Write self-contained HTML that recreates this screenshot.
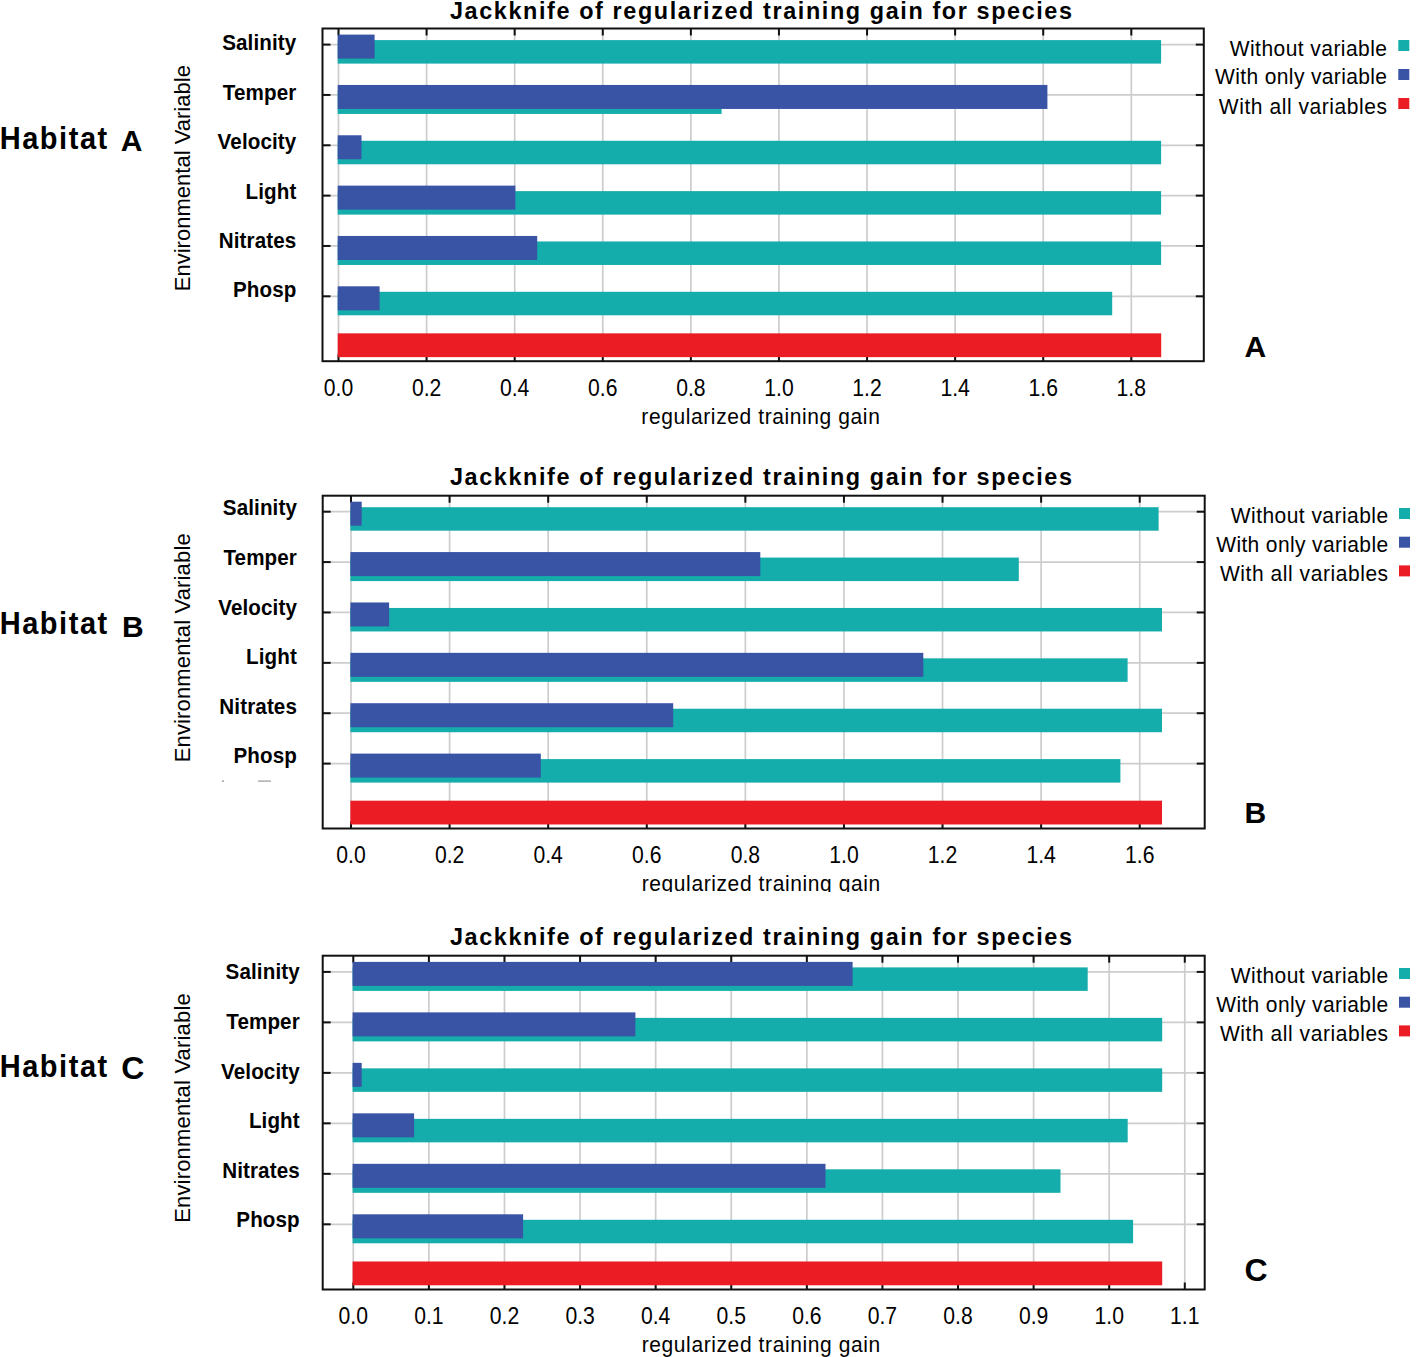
<!DOCTYPE html><html><head><meta charset="utf-8"><style>html,body{margin:0;padding:0;background:#fff;width:1417px;height:1357px;overflow:hidden}svg{display:block}text{font-family:"Liberation Sans",sans-serif}</style></head><body>
<svg width="1417" height="1357" viewBox="0 0 1417 1357">
<rect x="0" y="0" width="1417" height="1357" fill="#fff"/>
<line x1="338.50" y1="28.5" x2="338.50" y2="361.2" stroke="#cdcdcd" stroke-width="1.7"/><line x1="426.59" y1="28.5" x2="426.59" y2="361.2" stroke="#cdcdcd" stroke-width="1.7"/><line x1="514.68" y1="28.5" x2="514.68" y2="361.2" stroke="#cdcdcd" stroke-width="1.7"/><line x1="602.77" y1="28.5" x2="602.77" y2="361.2" stroke="#cdcdcd" stroke-width="1.7"/><line x1="690.86" y1="28.5" x2="690.86" y2="361.2" stroke="#cdcdcd" stroke-width="1.7"/><line x1="778.95" y1="28.5" x2="778.95" y2="361.2" stroke="#cdcdcd" stroke-width="1.7"/><line x1="867.04" y1="28.5" x2="867.04" y2="361.2" stroke="#cdcdcd" stroke-width="1.7"/><line x1="955.13" y1="28.5" x2="955.13" y2="361.2" stroke="#cdcdcd" stroke-width="1.7"/><line x1="1043.22" y1="28.5" x2="1043.22" y2="361.2" stroke="#cdcdcd" stroke-width="1.7"/><line x1="1131.31" y1="28.5" x2="1131.31" y2="361.2" stroke="#cdcdcd" stroke-width="1.7"/><line x1="322.5" y1="44.60" x2="1203.8" y2="44.60" stroke="#cdcdcd" stroke-width="1.7"/><line x1="322.5" y1="94.94" x2="1203.8" y2="94.94" stroke="#cdcdcd" stroke-width="1.7"/><line x1="322.5" y1="145.28" x2="1203.8" y2="145.28" stroke="#cdcdcd" stroke-width="1.7"/><line x1="322.5" y1="195.62" x2="1203.8" y2="195.62" stroke="#cdcdcd" stroke-width="1.7"/><line x1="322.5" y1="245.96" x2="1203.8" y2="245.96" stroke="#cdcdcd" stroke-width="1.7"/><line x1="322.5" y1="296.30" x2="1203.8" y2="296.30" stroke="#cdcdcd" stroke-width="1.7"/><line x1="338.50" y1="28.5" x2="338.50" y2="35.5" stroke="#111111" stroke-width="2"/><line x1="338.50" y1="361.2" x2="338.50" y2="354.2" stroke="#111111" stroke-width="2"/><line x1="426.59" y1="28.5" x2="426.59" y2="35.5" stroke="#111111" stroke-width="2"/><line x1="426.59" y1="361.2" x2="426.59" y2="354.2" stroke="#111111" stroke-width="2"/><line x1="514.68" y1="28.5" x2="514.68" y2="35.5" stroke="#111111" stroke-width="2"/><line x1="514.68" y1="361.2" x2="514.68" y2="354.2" stroke="#111111" stroke-width="2"/><line x1="602.77" y1="28.5" x2="602.77" y2="35.5" stroke="#111111" stroke-width="2"/><line x1="602.77" y1="361.2" x2="602.77" y2="354.2" stroke="#111111" stroke-width="2"/><line x1="690.86" y1="28.5" x2="690.86" y2="35.5" stroke="#111111" stroke-width="2"/><line x1="690.86" y1="361.2" x2="690.86" y2="354.2" stroke="#111111" stroke-width="2"/><line x1="778.95" y1="28.5" x2="778.95" y2="35.5" stroke="#111111" stroke-width="2"/><line x1="778.95" y1="361.2" x2="778.95" y2="354.2" stroke="#111111" stroke-width="2"/><line x1="867.04" y1="28.5" x2="867.04" y2="35.5" stroke="#111111" stroke-width="2"/><line x1="867.04" y1="361.2" x2="867.04" y2="354.2" stroke="#111111" stroke-width="2"/><line x1="955.13" y1="28.5" x2="955.13" y2="35.5" stroke="#111111" stroke-width="2"/><line x1="955.13" y1="361.2" x2="955.13" y2="354.2" stroke="#111111" stroke-width="2"/><line x1="1043.22" y1="28.5" x2="1043.22" y2="35.5" stroke="#111111" stroke-width="2"/><line x1="1043.22" y1="361.2" x2="1043.22" y2="354.2" stroke="#111111" stroke-width="2"/><line x1="1131.31" y1="28.5" x2="1131.31" y2="35.5" stroke="#111111" stroke-width="2"/><line x1="1131.31" y1="361.2" x2="1131.31" y2="354.2" stroke="#111111" stroke-width="2"/><line x1="322.5" y1="44.60" x2="330.5" y2="44.60" stroke="#111111" stroke-width="2"/><line x1="1203.8" y1="44.60" x2="1195.8" y2="44.60" stroke="#111111" stroke-width="2"/><line x1="322.5" y1="94.94" x2="330.5" y2="94.94" stroke="#111111" stroke-width="2"/><line x1="1203.8" y1="94.94" x2="1195.8" y2="94.94" stroke="#111111" stroke-width="2"/><line x1="322.5" y1="145.28" x2="330.5" y2="145.28" stroke="#111111" stroke-width="2"/><line x1="1203.8" y1="145.28" x2="1195.8" y2="145.28" stroke="#111111" stroke-width="2"/><line x1="322.5" y1="195.62" x2="330.5" y2="195.62" stroke="#111111" stroke-width="2"/><line x1="1203.8" y1="195.62" x2="1195.8" y2="195.62" stroke="#111111" stroke-width="2"/><line x1="322.5" y1="245.96" x2="330.5" y2="245.96" stroke="#111111" stroke-width="2"/><line x1="1203.8" y1="245.96" x2="1195.8" y2="245.96" stroke="#111111" stroke-width="2"/><line x1="322.5" y1="296.30" x2="330.5" y2="296.30" stroke="#111111" stroke-width="2"/><line x1="1203.8" y1="296.30" x2="1195.8" y2="296.30" stroke="#111111" stroke-width="2"/><rect x="337.7" y="40.10" width="823.40" height="23.5" fill="#14adac"/><rect x="337.7" y="34.60" width="36.90" height="24" fill="#3953a5"/><rect x="337.7" y="90.44" width="383.90" height="23.5" fill="#14adac"/><rect x="337.7" y="84.94" width="709.70" height="24" fill="#3953a5"/><rect x="337.7" y="140.78" width="823.40" height="23.5" fill="#14adac"/><rect x="337.7" y="135.28" width="23.80" height="24" fill="#3953a5"/><rect x="337.7" y="191.12" width="823.40" height="23.5" fill="#14adac"/><rect x="337.7" y="185.62" width="177.70" height="24" fill="#3953a5"/><rect x="337.7" y="241.46" width="823.40" height="23.5" fill="#14adac"/><rect x="337.7" y="235.96" width="199.50" height="24" fill="#3953a5"/><rect x="337.7" y="291.80" width="774.50" height="23.5" fill="#14adac"/><rect x="337.7" y="286.30" width="41.90" height="24" fill="#3953a5"/><rect x="337.7" y="333.34" width="823.50" height="23.8" fill="#ec1c24"/><rect x="322.5" y="28.5" width="881.30" height="332.70" fill="none" stroke="#111111" stroke-width="2"/>
<text transform="translate(450,18.8) scale(1,1.05)" font-size="23.4" font-weight="bold" textLength="622" lengthAdjust="spacing">Jackknife of regularized training gain for species</text>
<text transform="translate(296.4,50.05) scale(1,1.05)" font-size="20.6" font-weight="bold" letter-spacing="0.12" text-anchor="end">Salinity</text>
<text transform="translate(296.4,99.7) scale(1,1.05)" font-size="20.6" font-weight="bold" letter-spacing="0.12" text-anchor="end">Temper</text>
<text transform="translate(296.4,148.7) scale(1,1.05)" font-size="20.6" font-weight="bold" letter-spacing="0.12" text-anchor="end">Velocity</text>
<text transform="translate(296.4,198.7) scale(1,1.05)" font-size="20.6" font-weight="bold" letter-spacing="0.12" text-anchor="end">Light</text>
<text transform="translate(296.4,247.7) scale(1,1.05)" font-size="20.6" font-weight="bold" letter-spacing="0.12" text-anchor="end">Nitrates</text>
<text transform="translate(296.4,297.2) scale(1,1.05)" font-size="20.6" font-weight="bold" letter-spacing="0.12" text-anchor="end">Phosp</text>
<text transform="translate(189.5,291.3) rotate(-90)" x="0" y="0" font-size="22" textLength="226.2" lengthAdjust="spacing">Environmental Variable</text>
<text transform="translate(-0.3,148.9) scale(1,1.08)" font-size="29" font-weight="bold" letter-spacing="1.55">Habitat</text>
<text x="120.8" y="151.2" font-size="30" font-weight="bold">A</text>
<text transform="translate(1387,56) scale(1,1.04)" font-size="21" text-anchor="end" textLength="157.3" lengthAdjust="spacing">Without variable</text>
<rect x="1398.3" y="40" width="11" height="11" fill="#14adac"/>
<text transform="translate(1387,84.4) scale(1,1.04)" font-size="21" text-anchor="end" textLength="171.9" lengthAdjust="spacing">With only variable</text>
<rect x="1398.3" y="69" width="11" height="11" fill="#3953a5"/>
<text transform="translate(1387,113.5) scale(1,1.04)" font-size="21" text-anchor="end" textLength="168.2" lengthAdjust="spacing">With all variables</text>
<rect x="1398.3" y="98" width="11" height="11" fill="#ec1c24"/>
<text transform="translate(338.50,395.9) scale(0.9,1)" font-size="23.5" text-anchor="middle">0.0</text>
<text transform="translate(426.59,395.9) scale(0.9,1)" font-size="23.5" text-anchor="middle">0.2</text>
<text transform="translate(514.68,395.9) scale(0.9,1)" font-size="23.5" text-anchor="middle">0.4</text>
<text transform="translate(602.77,395.9) scale(0.9,1)" font-size="23.5" text-anchor="middle">0.6</text>
<text transform="translate(690.86,395.9) scale(0.9,1)" font-size="23.5" text-anchor="middle">0.8</text>
<text transform="translate(778.95,395.9) scale(0.9,1)" font-size="23.5" text-anchor="middle">1.0</text>
<text transform="translate(867.04,395.9) scale(0.9,1)" font-size="23.5" text-anchor="middle">1.2</text>
<text transform="translate(955.13,395.9) scale(0.9,1)" font-size="23.5" text-anchor="middle">1.4</text>
<text transform="translate(1043.22,395.9) scale(0.9,1)" font-size="23.5" text-anchor="middle">1.6</text>
<text transform="translate(1131.31,395.9) scale(0.9,1)" font-size="23.5" text-anchor="middle">1.8</text>
<text transform="translate(641.3,424.1) scale(1,1.04)" font-size="21" textLength="238.5" lengthAdjust="spacing">regularized training gain</text>
<text x="1244.6" y="356.7" font-size="30" font-weight="bold">A</text>
<line x1="351.00" y1="495.7" x2="351.00" y2="828.5" stroke="#cdcdcd" stroke-width="1.7"/><line x1="449.59" y1="495.7" x2="449.59" y2="828.5" stroke="#cdcdcd" stroke-width="1.7"/><line x1="548.18" y1="495.7" x2="548.18" y2="828.5" stroke="#cdcdcd" stroke-width="1.7"/><line x1="646.77" y1="495.7" x2="646.77" y2="828.5" stroke="#cdcdcd" stroke-width="1.7"/><line x1="745.36" y1="495.7" x2="745.36" y2="828.5" stroke="#cdcdcd" stroke-width="1.7"/><line x1="843.95" y1="495.7" x2="843.95" y2="828.5" stroke="#cdcdcd" stroke-width="1.7"/><line x1="942.54" y1="495.7" x2="942.54" y2="828.5" stroke="#cdcdcd" stroke-width="1.7"/><line x1="1041.13" y1="495.7" x2="1041.13" y2="828.5" stroke="#cdcdcd" stroke-width="1.7"/><line x1="1139.72" y1="495.7" x2="1139.72" y2="828.5" stroke="#cdcdcd" stroke-width="1.7"/><line x1="322.7" y1="511.70" x2="1204.7" y2="511.70" stroke="#cdcdcd" stroke-width="1.7"/><line x1="322.7" y1="562.08" x2="1204.7" y2="562.08" stroke="#cdcdcd" stroke-width="1.7"/><line x1="322.7" y1="612.46" x2="1204.7" y2="612.46" stroke="#cdcdcd" stroke-width="1.7"/><line x1="322.7" y1="662.84" x2="1204.7" y2="662.84" stroke="#cdcdcd" stroke-width="1.7"/><line x1="322.7" y1="713.22" x2="1204.7" y2="713.22" stroke="#cdcdcd" stroke-width="1.7"/><line x1="322.7" y1="763.60" x2="1204.7" y2="763.60" stroke="#cdcdcd" stroke-width="1.7"/><line x1="351.00" y1="495.7" x2="351.00" y2="502.7" stroke="#111111" stroke-width="2"/><line x1="351.00" y1="828.5" x2="351.00" y2="821.5" stroke="#111111" stroke-width="2"/><line x1="449.59" y1="495.7" x2="449.59" y2="502.7" stroke="#111111" stroke-width="2"/><line x1="449.59" y1="828.5" x2="449.59" y2="821.5" stroke="#111111" stroke-width="2"/><line x1="548.18" y1="495.7" x2="548.18" y2="502.7" stroke="#111111" stroke-width="2"/><line x1="548.18" y1="828.5" x2="548.18" y2="821.5" stroke="#111111" stroke-width="2"/><line x1="646.77" y1="495.7" x2="646.77" y2="502.7" stroke="#111111" stroke-width="2"/><line x1="646.77" y1="828.5" x2="646.77" y2="821.5" stroke="#111111" stroke-width="2"/><line x1="745.36" y1="495.7" x2="745.36" y2="502.7" stroke="#111111" stroke-width="2"/><line x1="745.36" y1="828.5" x2="745.36" y2="821.5" stroke="#111111" stroke-width="2"/><line x1="843.95" y1="495.7" x2="843.95" y2="502.7" stroke="#111111" stroke-width="2"/><line x1="843.95" y1="828.5" x2="843.95" y2="821.5" stroke="#111111" stroke-width="2"/><line x1="942.54" y1="495.7" x2="942.54" y2="502.7" stroke="#111111" stroke-width="2"/><line x1="942.54" y1="828.5" x2="942.54" y2="821.5" stroke="#111111" stroke-width="2"/><line x1="1041.13" y1="495.7" x2="1041.13" y2="502.7" stroke="#111111" stroke-width="2"/><line x1="1041.13" y1="828.5" x2="1041.13" y2="821.5" stroke="#111111" stroke-width="2"/><line x1="1139.72" y1="495.7" x2="1139.72" y2="502.7" stroke="#111111" stroke-width="2"/><line x1="1139.72" y1="828.5" x2="1139.72" y2="821.5" stroke="#111111" stroke-width="2"/><line x1="322.7" y1="511.70" x2="330.7" y2="511.70" stroke="#111111" stroke-width="2"/><line x1="1204.7" y1="511.70" x2="1196.7" y2="511.70" stroke="#111111" stroke-width="2"/><line x1="322.7" y1="562.08" x2="330.7" y2="562.08" stroke="#111111" stroke-width="2"/><line x1="1204.7" y1="562.08" x2="1196.7" y2="562.08" stroke="#111111" stroke-width="2"/><line x1="322.7" y1="612.46" x2="330.7" y2="612.46" stroke="#111111" stroke-width="2"/><line x1="1204.7" y1="612.46" x2="1196.7" y2="612.46" stroke="#111111" stroke-width="2"/><line x1="322.7" y1="662.84" x2="330.7" y2="662.84" stroke="#111111" stroke-width="2"/><line x1="1204.7" y1="662.84" x2="1196.7" y2="662.84" stroke="#111111" stroke-width="2"/><line x1="322.7" y1="713.22" x2="330.7" y2="713.22" stroke="#111111" stroke-width="2"/><line x1="1204.7" y1="713.22" x2="1196.7" y2="713.22" stroke="#111111" stroke-width="2"/><line x1="322.7" y1="763.60" x2="330.7" y2="763.60" stroke="#111111" stroke-width="2"/><line x1="1204.7" y1="763.60" x2="1196.7" y2="763.60" stroke="#111111" stroke-width="2"/><rect x="350.4" y="507.20" width="808.20" height="23.5" fill="#14adac"/><rect x="350.4" y="501.70" width="11.30" height="24" fill="#3953a5"/><rect x="350.4" y="557.58" width="668.40" height="23.5" fill="#14adac"/><rect x="350.4" y="552.08" width="409.90" height="24" fill="#3953a5"/><rect x="350.4" y="607.96" width="811.60" height="23.5" fill="#14adac"/><rect x="350.4" y="602.46" width="38.70" height="24" fill="#3953a5"/><rect x="350.4" y="658.34" width="777.20" height="23.5" fill="#14adac"/><rect x="350.4" y="652.84" width="572.90" height="24" fill="#3953a5"/><rect x="350.4" y="708.72" width="811.60" height="23.5" fill="#14adac"/><rect x="350.4" y="703.22" width="322.80" height="24" fill="#3953a5"/><rect x="350.4" y="759.10" width="770.00" height="23.5" fill="#14adac"/><rect x="350.4" y="753.60" width="190.40" height="24" fill="#3953a5"/><rect x="350.4" y="800.68" width="811.60" height="23.8" fill="#ec1c24"/><rect x="322.7" y="495.7" width="882.00" height="332.80" fill="none" stroke="#111111" stroke-width="2"/>
<text transform="translate(450,485.2) scale(1,1.05)" font-size="23.4" font-weight="bold" textLength="622" lengthAdjust="spacing">Jackknife of regularized training gain for species</text>
<text transform="translate(297.0,515.4) scale(1,1.05)" font-size="20.6" font-weight="bold" letter-spacing="0.12" text-anchor="end">Salinity</text>
<text transform="translate(297.0,565.2) scale(1,1.05)" font-size="20.6" font-weight="bold" letter-spacing="0.12" text-anchor="end">Temper</text>
<text transform="translate(297.0,614.9) scale(1,1.05)" font-size="20.6" font-weight="bold" letter-spacing="0.12" text-anchor="end">Velocity</text>
<text transform="translate(297.0,663.8) scale(1,1.05)" font-size="20.6" font-weight="bold" letter-spacing="0.12" text-anchor="end">Light</text>
<text transform="translate(297.0,713.5) scale(1,1.05)" font-size="20.6" font-weight="bold" letter-spacing="0.12" text-anchor="end">Nitrates</text>
<text transform="translate(297.0,762.7) scale(1,1.05)" font-size="20.6" font-weight="bold" letter-spacing="0.12" text-anchor="end">Phosp</text>
<text transform="translate(189.8,762.3) rotate(-90)" x="0" y="0" font-size="22" textLength="229.0" lengthAdjust="spacing">Environmental Variable</text>
<text transform="translate(-0.3,634.4) scale(1,1.08)" font-size="29" font-weight="bold" letter-spacing="1.55">Habitat</text>
<text x="121.9" y="637" font-size="30" font-weight="bold">B</text>
<text transform="translate(1388.1,523.3) scale(1,1.04)" font-size="21" text-anchor="end" textLength="157.3" lengthAdjust="spacing">Without variable</text>
<rect x="1399" y="508" width="11" height="11" fill="#14adac"/>
<text transform="translate(1388.1,552) scale(1,1.04)" font-size="21" text-anchor="end" textLength="171.9" lengthAdjust="spacing">With only variable</text>
<rect x="1399" y="536.7" width="11" height="11" fill="#3953a5"/>
<text transform="translate(1388.1,580.8) scale(1,1.04)" font-size="21" text-anchor="end" textLength="168.2" lengthAdjust="spacing">With all variables</text>
<rect x="1399" y="565.4" width="11" height="11" fill="#ec1c24"/>
<text transform="translate(351.00,863.0) scale(0.9,1)" font-size="23.5" text-anchor="middle">0.0</text>
<text transform="translate(449.59,863.0) scale(0.9,1)" font-size="23.5" text-anchor="middle">0.2</text>
<text transform="translate(548.18,863.0) scale(0.9,1)" font-size="23.5" text-anchor="middle">0.4</text>
<text transform="translate(646.77,863.0) scale(0.9,1)" font-size="23.5" text-anchor="middle">0.6</text>
<text transform="translate(745.36,863.0) scale(0.9,1)" font-size="23.5" text-anchor="middle">0.8</text>
<text transform="translate(843.95,863.0) scale(0.9,1)" font-size="23.5" text-anchor="middle">1.0</text>
<text transform="translate(942.54,863.0) scale(0.9,1)" font-size="23.5" text-anchor="middle">1.2</text>
<text transform="translate(1041.13,863.0) scale(0.9,1)" font-size="23.5" text-anchor="middle">1.4</text>
<text transform="translate(1139.72,863.0) scale(0.9,1)" font-size="23.5" text-anchor="middle">1.6</text>
<svg x="0" y="0" width="1417" height="892" overflow="hidden"><text transform="translate(641.7,891.0) scale(1,1.04)" font-size="21" textLength="238.5" lengthAdjust="spacing">regularized training gain</text></svg>
<text x="1244.4" y="822.8" font-size="30" font-weight="bold">B</text>
<line x1="353.30" y1="955.7" x2="353.30" y2="1289.5" stroke="#cdcdcd" stroke-width="1.7"/><line x1="428.89" y1="955.7" x2="428.89" y2="1289.5" stroke="#cdcdcd" stroke-width="1.7"/><line x1="504.48" y1="955.7" x2="504.48" y2="1289.5" stroke="#cdcdcd" stroke-width="1.7"/><line x1="580.07" y1="955.7" x2="580.07" y2="1289.5" stroke="#cdcdcd" stroke-width="1.7"/><line x1="655.66" y1="955.7" x2="655.66" y2="1289.5" stroke="#cdcdcd" stroke-width="1.7"/><line x1="731.25" y1="955.7" x2="731.25" y2="1289.5" stroke="#cdcdcd" stroke-width="1.7"/><line x1="806.84" y1="955.7" x2="806.84" y2="1289.5" stroke="#cdcdcd" stroke-width="1.7"/><line x1="882.43" y1="955.7" x2="882.43" y2="1289.5" stroke="#cdcdcd" stroke-width="1.7"/><line x1="958.02" y1="955.7" x2="958.02" y2="1289.5" stroke="#cdcdcd" stroke-width="1.7"/><line x1="1033.61" y1="955.7" x2="1033.61" y2="1289.5" stroke="#cdcdcd" stroke-width="1.7"/><line x1="1109.20" y1="955.7" x2="1109.20" y2="1289.5" stroke="#cdcdcd" stroke-width="1.7"/><line x1="1184.79" y1="955.7" x2="1184.79" y2="1289.5" stroke="#cdcdcd" stroke-width="1.7"/><line x1="322.7" y1="971.90" x2="1204.7" y2="971.90" stroke="#cdcdcd" stroke-width="1.7"/><line x1="322.7" y1="1022.38" x2="1204.7" y2="1022.38" stroke="#cdcdcd" stroke-width="1.7"/><line x1="322.7" y1="1072.86" x2="1204.7" y2="1072.86" stroke="#cdcdcd" stroke-width="1.7"/><line x1="322.7" y1="1123.34" x2="1204.7" y2="1123.34" stroke="#cdcdcd" stroke-width="1.7"/><line x1="322.7" y1="1173.82" x2="1204.7" y2="1173.82" stroke="#cdcdcd" stroke-width="1.7"/><line x1="322.7" y1="1224.30" x2="1204.7" y2="1224.30" stroke="#cdcdcd" stroke-width="1.7"/><line x1="353.30" y1="955.7" x2="353.30" y2="962.7" stroke="#111111" stroke-width="2"/><line x1="353.30" y1="1289.5" x2="353.30" y2="1282.5" stroke="#111111" stroke-width="2"/><line x1="428.89" y1="955.7" x2="428.89" y2="962.7" stroke="#111111" stroke-width="2"/><line x1="428.89" y1="1289.5" x2="428.89" y2="1282.5" stroke="#111111" stroke-width="2"/><line x1="504.48" y1="955.7" x2="504.48" y2="962.7" stroke="#111111" stroke-width="2"/><line x1="504.48" y1="1289.5" x2="504.48" y2="1282.5" stroke="#111111" stroke-width="2"/><line x1="580.07" y1="955.7" x2="580.07" y2="962.7" stroke="#111111" stroke-width="2"/><line x1="580.07" y1="1289.5" x2="580.07" y2="1282.5" stroke="#111111" stroke-width="2"/><line x1="655.66" y1="955.7" x2="655.66" y2="962.7" stroke="#111111" stroke-width="2"/><line x1="655.66" y1="1289.5" x2="655.66" y2="1282.5" stroke="#111111" stroke-width="2"/><line x1="731.25" y1="955.7" x2="731.25" y2="962.7" stroke="#111111" stroke-width="2"/><line x1="731.25" y1="1289.5" x2="731.25" y2="1282.5" stroke="#111111" stroke-width="2"/><line x1="806.84" y1="955.7" x2="806.84" y2="962.7" stroke="#111111" stroke-width="2"/><line x1="806.84" y1="1289.5" x2="806.84" y2="1282.5" stroke="#111111" stroke-width="2"/><line x1="882.43" y1="955.7" x2="882.43" y2="962.7" stroke="#111111" stroke-width="2"/><line x1="882.43" y1="1289.5" x2="882.43" y2="1282.5" stroke="#111111" stroke-width="2"/><line x1="958.02" y1="955.7" x2="958.02" y2="962.7" stroke="#111111" stroke-width="2"/><line x1="958.02" y1="1289.5" x2="958.02" y2="1282.5" stroke="#111111" stroke-width="2"/><line x1="1033.61" y1="955.7" x2="1033.61" y2="962.7" stroke="#111111" stroke-width="2"/><line x1="1033.61" y1="1289.5" x2="1033.61" y2="1282.5" stroke="#111111" stroke-width="2"/><line x1="1109.20" y1="955.7" x2="1109.20" y2="962.7" stroke="#111111" stroke-width="2"/><line x1="1109.20" y1="1289.5" x2="1109.20" y2="1282.5" stroke="#111111" stroke-width="2"/><line x1="1184.79" y1="955.7" x2="1184.79" y2="962.7" stroke="#111111" stroke-width="2"/><line x1="1184.79" y1="1289.5" x2="1184.79" y2="1282.5" stroke="#111111" stroke-width="2"/><line x1="322.7" y1="971.90" x2="330.7" y2="971.90" stroke="#111111" stroke-width="2"/><line x1="1204.7" y1="971.90" x2="1196.7" y2="971.90" stroke="#111111" stroke-width="2"/><line x1="322.7" y1="1022.38" x2="330.7" y2="1022.38" stroke="#111111" stroke-width="2"/><line x1="1204.7" y1="1022.38" x2="1196.7" y2="1022.38" stroke="#111111" stroke-width="2"/><line x1="322.7" y1="1072.86" x2="330.7" y2="1072.86" stroke="#111111" stroke-width="2"/><line x1="1204.7" y1="1072.86" x2="1196.7" y2="1072.86" stroke="#111111" stroke-width="2"/><line x1="322.7" y1="1123.34" x2="330.7" y2="1123.34" stroke="#111111" stroke-width="2"/><line x1="1204.7" y1="1123.34" x2="1196.7" y2="1123.34" stroke="#111111" stroke-width="2"/><line x1="322.7" y1="1173.82" x2="330.7" y2="1173.82" stroke="#111111" stroke-width="2"/><line x1="1204.7" y1="1173.82" x2="1196.7" y2="1173.82" stroke="#111111" stroke-width="2"/><line x1="322.7" y1="1224.30" x2="330.7" y2="1224.30" stroke="#111111" stroke-width="2"/><line x1="1204.7" y1="1224.30" x2="1196.7" y2="1224.30" stroke="#111111" stroke-width="2"/><rect x="352.6" y="967.40" width="735.10" height="23.5" fill="#14adac"/><rect x="352.6" y="961.90" width="500.00" height="24" fill="#3953a5"/><rect x="352.6" y="1017.88" width="809.60" height="23.5" fill="#14adac"/><rect x="352.6" y="1012.38" width="282.80" height="24" fill="#3953a5"/><rect x="352.6" y="1068.36" width="809.60" height="23.5" fill="#14adac"/><rect x="352.6" y="1062.86" width="9.10" height="24" fill="#3953a5"/><rect x="352.6" y="1118.84" width="775.10" height="23.5" fill="#14adac"/><rect x="352.6" y="1113.34" width="61.50" height="24" fill="#3953a5"/><rect x="352.6" y="1169.32" width="707.90" height="23.5" fill="#14adac"/><rect x="352.6" y="1163.82" width="472.90" height="24" fill="#3953a5"/><rect x="352.6" y="1219.80" width="780.50" height="23.5" fill="#14adac"/><rect x="352.6" y="1214.30" width="170.50" height="24" fill="#3953a5"/><rect x="352.6" y="1261.48" width="809.60" height="23.8" fill="#ec1c24"/><rect x="322.7" y="955.7" width="882.00" height="333.80" fill="none" stroke="#111111" stroke-width="2"/>
<text transform="translate(450,945.2) scale(1,1.05)" font-size="23.4" font-weight="bold" textLength="622" lengthAdjust="spacing">Jackknife of regularized training gain for species</text>
<text transform="translate(299.8,979.3) scale(1,1.05)" font-size="20.6" font-weight="bold" letter-spacing="0.12" text-anchor="end">Salinity</text>
<text transform="translate(299.8,1029) scale(1,1.05)" font-size="20.6" font-weight="bold" letter-spacing="0.12" text-anchor="end">Temper</text>
<text transform="translate(299.8,1078.8) scale(1,1.05)" font-size="20.6" font-weight="bold" letter-spacing="0.12" text-anchor="end">Velocity</text>
<text transform="translate(299.8,1128.1) scale(1,1.05)" font-size="20.6" font-weight="bold" letter-spacing="0.12" text-anchor="end">Light</text>
<text transform="translate(299.8,1177.9) scale(1,1.05)" font-size="20.6" font-weight="bold" letter-spacing="0.12" text-anchor="end">Nitrates</text>
<text transform="translate(299.8,1227.1) scale(1,1.05)" font-size="20.6" font-weight="bold" letter-spacing="0.12" text-anchor="end">Phosp</text>
<text transform="translate(189.8,1222.8) rotate(-90)" x="0" y="0" font-size="22" textLength="229.5" lengthAdjust="spacing">Environmental Variable</text>
<text transform="translate(-0.3,1077.3) scale(1,1.08)" font-size="29" font-weight="bold" letter-spacing="1.55">Habitat</text>
<text x="121.3" y="1078.6" font-size="32" font-weight="bold">C</text>
<text transform="translate(1388.1,983.3) scale(1,1.04)" font-size="21" text-anchor="end" textLength="157.3" lengthAdjust="spacing">Without variable</text>
<rect x="1399" y="968" width="11" height="11" fill="#14adac"/>
<text transform="translate(1388.1,1012) scale(1,1.04)" font-size="21" text-anchor="end" textLength="171.9" lengthAdjust="spacing">With only variable</text>
<rect x="1399" y="996.7" width="11" height="11" fill="#3953a5"/>
<text transform="translate(1388.1,1040.8) scale(1,1.04)" font-size="21" text-anchor="end" textLength="168.2" lengthAdjust="spacing">With all variables</text>
<rect x="1399" y="1025.4" width="11" height="11" fill="#ec1c24"/>
<text transform="translate(353.30,1323.7) scale(0.9,1)" font-size="23.5" text-anchor="middle">0.0</text>
<text transform="translate(428.89,1323.7) scale(0.9,1)" font-size="23.5" text-anchor="middle">0.1</text>
<text transform="translate(504.48,1323.7) scale(0.9,1)" font-size="23.5" text-anchor="middle">0.2</text>
<text transform="translate(580.07,1323.7) scale(0.9,1)" font-size="23.5" text-anchor="middle">0.3</text>
<text transform="translate(655.66,1323.7) scale(0.9,1)" font-size="23.5" text-anchor="middle">0.4</text>
<text transform="translate(731.25,1323.7) scale(0.9,1)" font-size="23.5" text-anchor="middle">0.5</text>
<text transform="translate(806.84,1323.7) scale(0.9,1)" font-size="23.5" text-anchor="middle">0.6</text>
<text transform="translate(882.43,1323.7) scale(0.9,1)" font-size="23.5" text-anchor="middle">0.7</text>
<text transform="translate(958.02,1323.7) scale(0.9,1)" font-size="23.5" text-anchor="middle">0.8</text>
<text transform="translate(1033.61,1323.7) scale(0.9,1)" font-size="23.5" text-anchor="middle">0.9</text>
<text transform="translate(1109.20,1323.7) scale(0.9,1)" font-size="23.5" text-anchor="middle">1.0</text>
<text transform="translate(1184.79,1323.7) scale(0.9,1)" font-size="23.5" text-anchor="middle">1.1</text>
<text transform="translate(641.7,1351.9) scale(1,1.04)" font-size="21" textLength="238.5" lengthAdjust="spacing">regularized training gain</text>
<text x="1244.6" y="1280.6" font-size="32" font-weight="bold">C</text>
<rect x="222" y="780.5" width="2" height="1.2" fill="#888"/><rect x="258" y="780.5" width="13" height="1.2" fill="#999"/>
</svg></body></html>
